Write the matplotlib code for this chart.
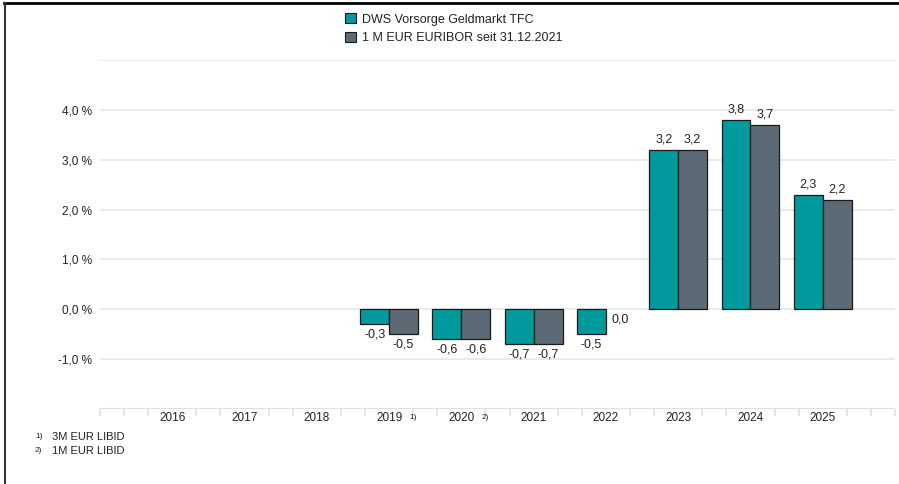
import matplotlib
matplotlib.use("Agg")
import matplotlib.pyplot as plt
import numpy as np
from matplotlib.patches import Rectangle
from matplotlib.lines import Line2D

years = ["2016", "2017", "2018", "2019", "2020", "2021", "2022", "2023", "2024", "2025"]
fund = [None, None, None, -0.3, -0.6, -0.7, -0.5, 3.2, 3.8, 2.3]
euribor = [None, None, None, -0.5, -0.6, -0.7, 0.0, 3.2, 3.7, 2.2]
series_names = ["DWS Vorsorge Geldmarkt TFC", "1 M EUR EURIBOR seit 31.12.2021"]
yticks = [-1, 0, 1, 2, 3, 4]
footnotes = [("1)", "3M EUR LIBID"), ("2)", "1M EUR LIBID")]
year_notes = {"2019": "1)", "2020": "2)"}

teal = "#009A9C"
grey = "#5B6A75"
txt = "#222222"

plt.rcParams['font.family'] = ['Liberation Sans', 'DejaVu Sans']

fig = plt.figure(figsize=(8.99, 4.84), dpi=100)
ax = fig.add_axes([100/899, 1-409/484, 795/899, 349/484])

x = np.arange(len(years))
w = 0.4
for i, (a, b) in enumerate(zip(fund, euribor)):
    if a is not None:
        ax.bar(i - w/2, a, width=w, color=teal, edgecolor="#1a1a1a", linewidth=0.9, zorder=3)
        off = 0.08 if a > 0 else -0.08
        ax.text(i - w/2, a + off, f"{a:.1f}".replace(".", ","), ha="center",
                va="bottom" if a > 0 else "top", fontsize=9, color=txt)
    if b is not None:
        if b != 0:
            ax.bar(i + w/2, b, width=w, color=grey, edgecolor="#1a1a1a", linewidth=0.9, zorder=3)
        off = 0.08 if b > 0 else -0.08
        ax.text(i + w/2, b + off, f"{b:.1f}".replace(".", ","), ha="center",
                va="bottom" if b > 0 else "top", fontsize=9, color=txt)

ax.set_xlim(-1, 10)
ax.set_ylim(-2, 5)
for yv in [-1, 0, 1, 2, 3, 4, 5]:
    ax.axhline(yv, color="#e8e8e8", lw=1.3, zorder=1)
ax.axhline(-2, color="#e0e0e0", lw=1.5, zorder=1)

for s in ax.spines.values():
    s.set_visible(False)
ax.set_yticks(yticks)
ax.set_yticklabels([f"{v:.1f} %".replace(".", ",") for v in yticks], fontsize=8.5, color=txt)
ax.tick_params(axis="y", length=0, pad=6)
ax.set_xticks(x)
ax.set_xticklabels(years, fontsize=8.5, color=txt)
ax.tick_params(axis="x", length=0, pad=2)
minor = [k/3 for k in range(-3, 31) if k % 3 != 0] + [-1, 10]
ax.set_xticks(minor, minor=True)
ax.tick_params(axis="x", which="minor", length=5, color="#e0e0e0", width=1.2)

for i, yr in enumerate(years):
    if yr in year_notes:
        ax.annotate(year_notes[yr], xy=(i, -2), xytext=(17, -6), textcoords="offset points",
                    fontsize=6, color=txt, ha="center", va="center", annotation_clip=False)

# legend
handles = [Rectangle((0, 0), 1, 1, facecolor=teal, edgecolor="#1a1a1a", lw=0.8),
           Rectangle((0, 0), 1, 1, facecolor=grey, edgecolor="#1a1a1a", lw=0.8)]
leg = fig.legend(handles, series_names, loc="upper left", bbox_to_anchor=(340/899, 1-8/484),
                 frameon=False, fontsize=9, handlelength=0.9, handleheight=0.9,
                 handletextpad=0.5, labelspacing=0.5, borderaxespad=0)
for t in leg.get_texts():
    t.set_color(txt)

# footnotes
for j, (mark, label) in enumerate(footnotes):
    yy = 1 - (437 + j*14)/484
    fig.text(35/899, yy, mark, fontsize=6, color=txt, va="center")
    fig.text(52/899, yy, label, fontsize=8, color=txt, va="center")

# frame lines (top and left)
fig.add_artist(Line2D([4/899, 1], [1-3/484, 1-3/484], color="black", lw=2, transform=fig.transFigure))
fig.add_artist(Line2D([5/899, 5/899], [0, 1-3/484], color="#333333", lw=1.5, transform=fig.transFigure))

fig.savefig("out.png", dpi=100)
